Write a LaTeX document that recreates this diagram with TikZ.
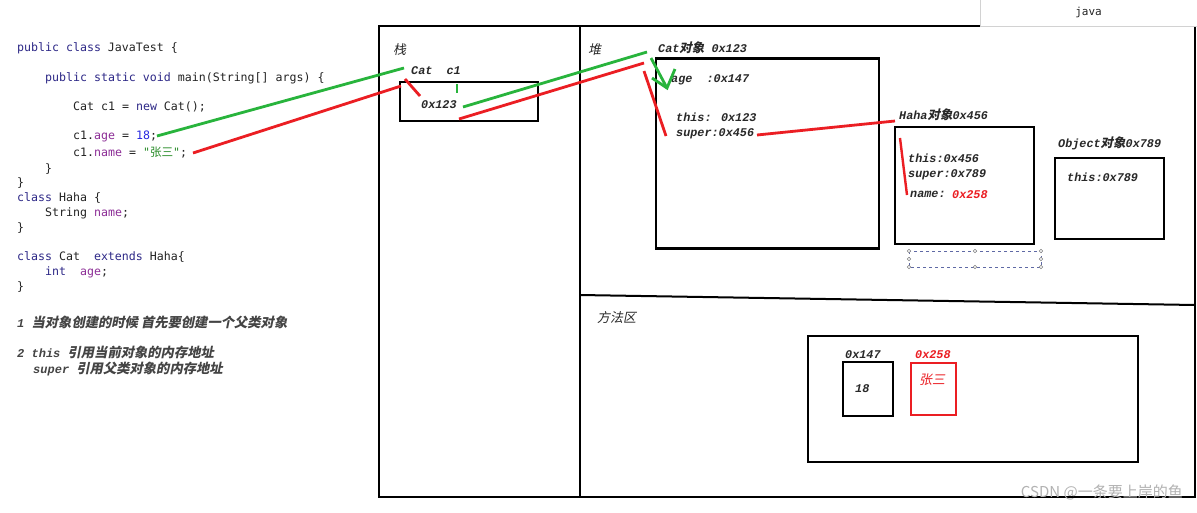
\documentclass[tikz,border=0pt]{standalone}
\usepackage{fontspec}
\newfontfamily\codefont{DejaVu Sans Mono}
\newfontfamily\labfont{Liberation Mono}
\newfontfamily\cjk{Noto Sans CJK SC}
\newfontfamily\cjksl[FakeSlant=0.2]{Noto Sans CJK SC}
\definecolor{kw}{RGB}{45,40,135}
\definecolor{fld}{RGB}{140,45,150}
\definecolor{num}{RGB}{40,40,225}
\definecolor{str}{RGB}{40,140,40}
\definecolor{txt}{RGB}{35,35,35}
\definecolor{lbl}{RGB}{40,40,40}
\definecolor{rl}{RGB}{235,30,35}
\definecolor{gl}{RGB}{40,180,60}
\definecolor{sel}{RGB}{95,105,165}
\newcommand\cj[1]{{\cjksl\fontsize{12.5}{14}\selectfont #1}}
\newcommand\cjn[1]{{\cjksl\fontsize{13.3}{15}\selectfont #1}}
\tikzset{
  code/.style={anchor=west,inner sep=0pt,text=txt,font=\codefont\fontsize{11.6}{14}\selectfont},
  lab/.style={anchor=west,inner sep=0pt,text=lbl,font=\labfont\bfseries\itshape\fontsize{11.8}{14}\selectfont},
  cjlab/.style={anchor=west,inner sep=0pt,text=lbl,font=\cjksl\fontsize{13}{15}\selectfont},
  note/.style={anchor=west,inner sep=0pt,text=txt!85,font=\labfont\bfseries\itshape\fontsize{12}{14}\selectfont},
  box/.style={draw=black,line width=2.6pt,inner sep=0pt},
  frame/.style={draw=black,line width=2pt},
  gline/.style={draw=gl,line width=2.8pt},
  rline/.style={draw=rl,line width=2.8pt},
  handle/.style={circle,draw=gray,fill=white,line width=0.5pt,inner sep=0pt,minimum size=3.5pt},
}
\begin{document}
\begin{tikzpicture}[x=1pt,y=-1pt]
\useasboundingbox[fill=white] (0,0) rectangle (1197,512);
% code
\node[code] (l1) at (17,48) {\textcolor{kw}{public class} JavaTest \{};
\node[code] (l2) at (45,78) {\textcolor{kw}{public static void} main(String[] args) \{};
\node[code] (l3) at (73,107) {Cat c1 = \textcolor{kw}{new} Cat();};
\node[code] (l4) at (73,136) {c1.\textcolor{fld}{age} = \textcolor{num}{18};};
\node[code] (l5) at (73,153) {c1.\textcolor{fld}{name} = \textcolor{str}{"{\cjk 张三}"};};
\node[code] (l6) at (45,169) {\}};
\node[code] (l7) at (17,183) {\}};
\node[code] (l8) at (17,198) {\textcolor{kw}{class} Haha \{};
\node[code] (l9) at (45,213) {String \textcolor{fld}{name};};
\node[code] (l10) at (17,228) {\}};
\node[code] (l11) at (17,257) {\textcolor{kw}{class} Cat~~\textcolor{kw}{extends} Haha\{};
\node[code] (l12) at (45,272) {\textcolor{kw}{int}~~\textcolor{fld}{age};};
\node[code] (l13) at (17,287) {\}};
% notes
\node[note] (n1) at (17,322) {1 \cjn{当对象创建的时候 首先要创建一个父类对象}};
\node[note] (n2) at (17,352) {2 this \cjn{引用当前对象的内存地址}};
\node[note] (n3) at (33,369) {super \cjn{引用父类对象的内存地址}};
% frame
\draw[frame] (379,26) rectangle (1195,497);
\draw[frame] (580,26) -- (580,497);
\draw[frame] (580,295) -- (1195,305);
% tab
\node[draw=gray!35,fill=white,minimum width=217pt,minimum height=27pt,inner sep=0pt,
  font=\codefont\fontsize{11}{13}\selectfont,text=txt] (tab) at (1088.5,12.5) {java};
% stack
\node[cjlab] (zhan) at (393,50) {栈};
\node[lab] (catc1) at (411,71) {Cat~~c1};
\node[box,minimum width=138pt,minimum height=39pt] (sbox) at (469,101.5) {};
\node[lab] (sref) at (421,105) {0x123};
% heap
\node[cjlab] (dui) at (588,50) {堆};
\node[lab] (catlab) at (658,48) {Cat\cj{对象} 0x123};
\node[box,minimum width=223pt,minimum height=190pt] (catbox) at (767.5,153.5) {};
\node[lab] (age) at (671,80) {age~~:0x147};
\node[lab] (this1) at (676,117) {this: 0x123};
\node[lab] (super1) at (676,134) {super:0x456};
\node[lab] (hahalab) at (899,115) {Haha\cj{对象}0x456};
\node[box,minimum width=139pt,minimum height=117pt] (hahabox) at (964.5,185.5) {};
\node[lab] (this2) at (908,158) {this:0x456};
\node[lab] (super2) at (908,175) {super:0x789};
\node[lab] (name2) at (910,194) {name:};
\node[lab,text=rl] (n258) at (952,195) {0x258};
\node[lab] (objlab) at (1058,143) {Object\cj{对象}0x789};
\node[box,minimum width=109pt,minimum height=81pt] (objbox) at (1109.5,198.5) {};
\node[lab] (this3) at (1067,177) {this:0x789};
% selection
\draw[sel,dashed,line width=0.6pt] (909,251) rectangle (1041,267);
\foreach \p [count=\i] in {(909,251),(975,251),(1041,251),(909,259),(1041,259),(909,267),(975,267),(1041,267)}
  \node[handle] (h\i) at \p {};
% method area
\node[cjlab] (ffq) at (597,318) {方法区};
\node[box,minimum width=330pt,minimum height=126pt] (mbox) at (973,399) {};
\node[lab] (a147) at (845,355) {0x147};
\node[box,minimum width=50pt,minimum height=54pt] (b18) at (868,389) {};
\node[lab] (v18) at (855,389) {18};
\node[lab,text=rl] (a258) at (915,355) {0x258};
\node[box,draw=rl,minimum width=45pt,minimum height=52pt] (bzs) at (933.5,389) {};
\node[cjlab,text=rl] (vzs) at (919,380) {张三};
% connector end points
\coordinate (g1a) at (157,136); \coordinate (g1b) at (404,68);
\coordinate (r1a) at (193,153); \coordinate (r1b) at (401,86);
\coordinate (rta) at (405,79);  \coordinate (rtb) at (420,96);
\coordinate (gta) at (457,84);  \coordinate (gtb) at (457,93);
\coordinate (g2a) at (463,107); \coordinate (g2b) at (647,52);
\coordinate (r2a) at (459,119); \coordinate (r2b) at (644,63);
\coordinate (gaa) at (651,58);  \coordinate (gab) at (667,88);
\coordinate (gh1) at (675,69);  \coordinate (gh2) at (652,78);
\coordinate (r3a) at (644,71);  \coordinate (r3b) at (666,136);
\coordinate (r4a) at (757,135); \coordinate (r4b) at (895,121);
\coordinate (r5a) at (900,138); \coordinate (r5b) at (907,195);
\draw[gline] (g1a) -- (g1b);
\draw[rline] (r1a) -- (r1b);
\draw[rline] (rta) -- (rtb);
\draw[gline] (gta) -- (gtb);
\draw[gline] (g2a) -- (g2b);
\draw[rline] (r2a) -- (r2b);
\draw[gline] (gaa) -- (gab);
\draw[gline] (gh1) -- (gab) -- (gh2);
\draw[rline] (r3a) -- (r3b);
\draw[rline] (r4a) -- (r4b);
\draw[rline,line width=2.4pt] (r5a) -- (r5b);
% watermark
\node[anchor=east,inner sep=0pt,text=gray!60,font=\cjk\fontsize{15}{17}\selectfont] (wm) at (1183,492) {CSDN @一条要上岸的鱼};
\end{tikzpicture}
\end{document}
